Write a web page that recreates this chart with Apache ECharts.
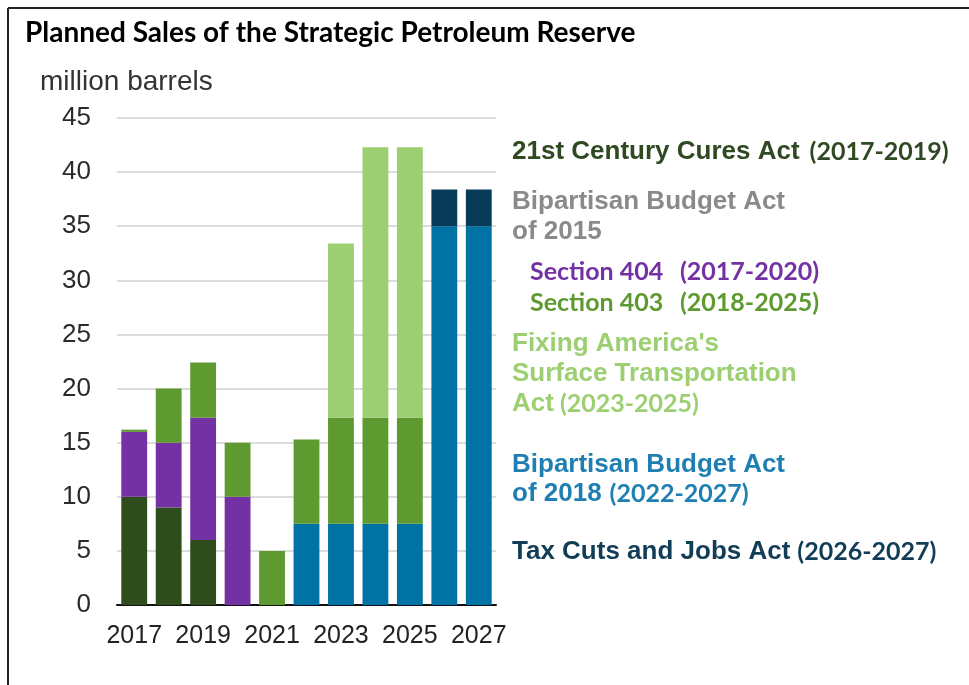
<!DOCTYPE html>
<html>
<head>
<meta charset="utf-8">
<script src="https://cdn.jsdelivr.net/npm/echarts@6/dist/echarts.min.js"></script>
<style>
  html, body { margin: 0; padding: 0; background: #fff; }
  #chart { width: 969px; height: 685px; }
</style>
</head>
<body>
<div id="chart"></div>
<script>
// Planned Strategic Petroleum Reserve sales by fiscal year, million barrels
const years = ['2017', '2018', '2019', '2020', '2021', '2022', '2023', '2024', '2025', '2026', '2027'];
const curesAct   = [10, 9, 6, 0, 0, 0, 0, 0, 0, 0, 0];
const bba2018    = [0, 0, 0, 0, 0, 7.5, 7.5, 7.5, 7.5, 35, 35];
const section404 = [6, 6, 11.3, 10, 0, 0, 0, 0, 0, 0, 0];
const section403 = [0.2, 5, 5.1, 5, 5, 7.8, 9.8, 9.8, 9.8, 0, 0];
const fastAct    = [0, 0, 0, 0, 0, 0, 16.1, 25, 25, 0, 0];
const taxCutsAct = [0, 0, 0, 0, 0, 0, 0, 0, 0, 3.4, 3.4];
const yTicks = { min: 0, max: 45, interval: 5 };

const C = {
  cures: '#2f4d1c',
  bba18: '#0072a3',
  s404: '#7431a3',
  s403: '#5e9a30',
  fast: '#9ccf72',
  tcja: '#073b58'
};

const chart = echarts.init(document.getElementById('chart'));

function bar(name, data, color) {
  return {
    name, type: 'bar', stack: 'total', data,
    barCategoryGap: '25%',
    itemStyle: { color },
    emphasis: { disabled: true }
  };
}

const sans = '"Liberation Sans", Arial, sans-serif';
const cal = 'Lato, "Open Sans", sans-serif';

// one line of the side key: act name in Arial bold, year span in a humanist bold face
function keyLine(x, y, color, name, span, opt) {
  opt = opt || {};
  const rich = {
    a: { fontFamily: opt.nameFont || sans, fontWeight: 'bold', fontSize: opt.nameSize || 26, fill: color, width: opt.nameWidth },
    b: { fontFamily: cal, fontWeight: 'bold', fontSize: opt.spanSize || 25, fill: color, padding: [0, 0, 0, opt.gap || 0] }
  };
  let text = '{a|' + name + '}';
  if (span) text += '{b|' + span + '}';
  return { type: 'text', x, y, silent: true, style: { text, rich, verticalAlign: 'middle' } };
}

chart.setOption({
  animation: false,
  title: {
    text: 'Planned Sales of the Strategic Petroleum Reserve',
    left: 20, top: 14,
    textStyle: { fontFamily: cal, fontWeight: 'bold', fontSize: 28, color: '#000' }
  },
  grid: { left: 117, right: 473, top: 118, bottom: 80 },
  xAxis: {
    type: 'category', data: years,
    axisTick: { show: false },
    axisLine: { lineStyle: { color: '#111', width: 2 } },
    axisLabel: { interval: 1, fontFamily: sans, fontSize: 25, color: '#222', margin: 19 }
  },
  yAxis: {
    type: 'value', min: yTicks.min, max: yTicks.max, interval: yTicks.interval,
    axisLine: { show: false },
    axisTick: { show: false },
    axisLabel: { fontFamily: sans, fontSize: 26, color: '#2a2a2a', margin: 26 },
    splitLine: { lineStyle: { color: '#dcdcdc', width: 2 } }
  },
  series: [
    bar('21st Century Cures Act', curesAct, C.cures),
    bar('Bipartisan Budget Act of 2018', bba2018, C.bba18),
    bar('Section 404', section404, C.s404),
    bar('Section 403', section403, C.s403),
    bar("Fixing America's Surface Transportation Act", fastAct, C.fast),
    bar('Tax Cuts and Jobs Act', taxCutsAct, C.tcja)
  ],
  graphic: [
    // frame edges
    { type: 'line', shape: { x1: 8, y1: 8, x2: 969, y2: 8 }, style: { stroke: '#222', lineWidth: 2 } },
    { type: 'line', shape: { x1: 8, y1: 8, x2: 8, y2: 685 }, style: { stroke: '#222', lineWidth: 2 } },

    // unit label
    { type: 'text', x: 40, y: 82, silent: true,
      style: { text: 'million barrels', fontFamily: sans, fontSize: 28, fill: '#333', verticalAlign: 'middle' } },

    // side key
    keyLine(512, 152, '#2f4a22', '21st Century Cures Act', '(2017-2019)', { gap: 10 }),
    keyLine(512, 202, '#8a8a8a', 'Bipartisan Budget Act'),
    keyLine(512, 232, '#8a8a8a', 'of 2015'),
    keyLine(530, 272, '#7431a3', 'Section 404', '(2017-2020)', { nameFont: cal, nameSize: 25, nameWidth: 150 }),
    keyLine(530, 303, '#5e9a30', 'Section 403', '(2018-2025)', { nameFont: cal, nameSize: 25, nameWidth: 150 }),
    keyLine(512, 344, '#9ccf72', "Fixing America's"),
    keyLine(512, 374, '#9ccf72', 'Surface Transportation'),
    keyLine(512, 404, '#9ccf72', 'Act', '(2023-2025)', { gap: 6 }),
    keyLine(512, 465, '#1f7fb3', 'Bipartisan Budget Act'),
    keyLine(512, 494, '#1f7fb3', 'of 2018', '(2022-2027)', { gap: 8 }),
    keyLine(512, 552, '#113d57', 'Tax Cuts and Jobs Act', '(2026-2027)', { gap: 7 })
  ]
});
</script>
</body>
</html>
